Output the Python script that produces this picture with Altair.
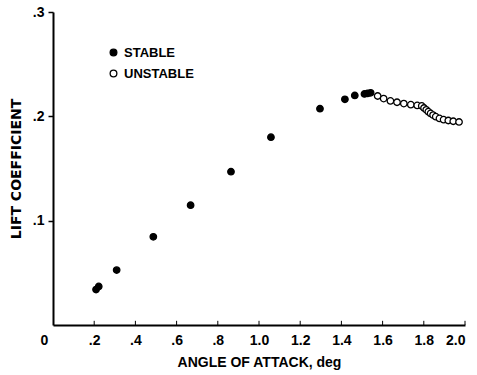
import altair as alt
import pandas as pd

# Stable (filled) points
stable_x = [0.209, 0.222, 0.309, 0.487, 0.668, 0.864, 1.058, 1.296, 1.417, 1.465, 1.512, 1.527, 1.542]
stable_y = [0.034, 0.037, 0.0526, 0.0845, 0.1148, 0.147, 0.180, 0.2073, 0.2163, 0.220, 0.2215, 0.222, 0.2225]

# Unstable (open) points
unstable_x = [1.576, 1.605, 1.638, 1.670, 1.703, 1.737, 1.768, 1.790, 1.801, 1.812, 1.822,
              1.833, 1.845, 1.858, 1.876, 1.896, 1.919, 1.943, 1.971]
unstable_y = [0.2195, 0.217, 0.2148, 0.2135, 0.2122, 0.2112, 0.2105, 0.210, 0.208, 0.2062, 0.2045,
              0.2028, 0.2012, 0.1997, 0.198, 0.1968, 0.196, 0.1953, 0.1946]

x_ticks = [0, 0.2, 0.4, 0.6, 0.8, 1.0, 1.2, 1.4, 1.6, 1.8, 2.0]
y_ticks = [0.1, 0.2, 0.3]
labels = ["STABLE", "UNSTABLE"]

df = pd.DataFrame({
    "alpha": stable_x + unstable_x,
    "cl": stable_y + unstable_y,
    "status": [labels[0]] * len(stable_x) + [labels[1]] * len(unstable_x),
})
ticks_df = pd.DataFrame({"t": x_ticks[1:], "y0": [0.0] * (len(x_ticks) - 1), "y1": [0.004] * (len(x_ticks) - 1)})

FONT = "Liberation Sans"

xscale = alt.Scale(domain=[0, 2.0], nice=False)
yscale = alt.Scale(domain=[0, 0.3], nice=False)

points = alt.Chart(df).mark_point(filled=False, size=42, strokeWidth=1.3, stroke="black", opacity=1).encode(
    x=alt.X("alpha:Q", scale=xscale, axis=alt.Axis(
        title="ANGLE OF ATTACK, deg", values=x_ticks, ticks=False,
        labelExpr="datum.value == 0 ? '0' : (datum.value < 1 ? replace(format(datum.value, '.1f'), '0.', '.') : format(datum.value, '.1f'))",
        labelOffset={"condition": {"test": "datum.value == 0", "value": -13}, "value": 0},
        labelPadding=8, titlePadding=8, titleFontSize=14, grid=False)),
    y=alt.Y("cl:Q", scale=yscale, axis=alt.Axis(
        title="LIFT COEFFICIENT", values=y_ticks, tickSize=5, tickWidth=1.5,
        labelExpr="replace(format(datum.value, '.1f'), '0.', '.')",
        titleFont="DejaVu Sans", titleFontSize=14,
        labelPadding=4, titlePadding=9, grid=False)),
    fill=alt.Fill("status:N", scale=alt.Scale(domain=labels, range=["black", "white"]),
                  legend=alt.Legend(title=None, orient="none", legendX=54, legendY=34,
                                    symbolType="circle", symbolSize=45, symbolStrokeColor="black",
                                    symbolStrokeWidth=1.3, labelFontSize=13, labelFont=FONT,
                                    labelFontWeight="bold", rowPadding=7, padding=0, symbolOffset=0)),
)

xticks = alt.Chart(ticks_df).mark_rule(color="black", strokeWidth=1).encode(
    x=alt.X("t:Q", scale=xscale), y=alt.Y("y0:Q", scale=yscale), y2="y1:Q"
)

chart = alt.layer(points, xticks).properties(
    width=412, height=313,
    autosize=alt.AutoSizeParams(type="none"),
    padding={"left": 53, "top": 12, "right": 12, "bottom": 50},
).configure_view(stroke=None).configure_axis(
    domainColor="black", domainWidth=2, tickColor="black",
    labelFont=FONT, labelFontSize=14, labelFontWeight="bold", labelColor="black",
    titleFont=FONT, titleFontSize=13, titleFontWeight="bold", titleColor="black",
)

chart.save("out.html", embed_options={"renderer": "svg", "actions": False})
